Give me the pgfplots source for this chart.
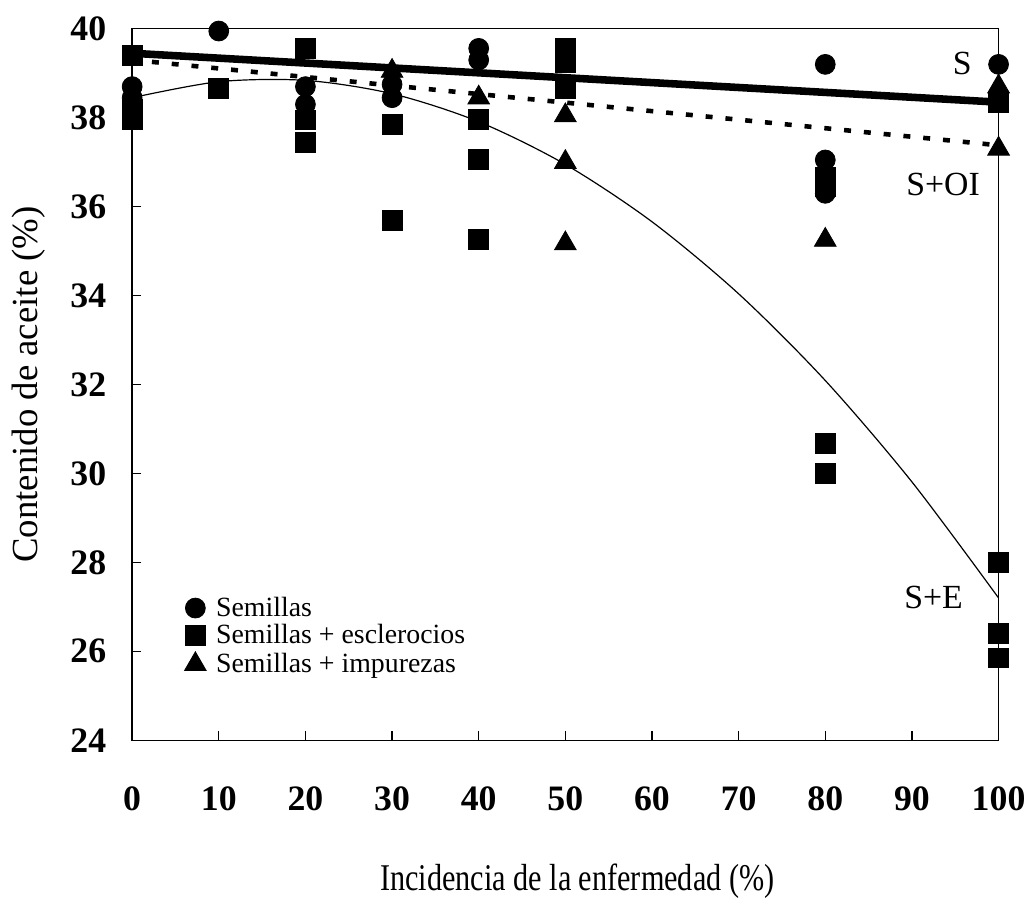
\documentclass[border=0pt]{standalone}
\usepackage{pgfplots}
\pgfplotsset{compat=1.18}
\usepackage{fontspec}
\setmainfont{Liberation Serif}
\newfontfamily\narrowserif[FakeStretch=0.8]{Liberation Serif}

\begin{document}
\begin{tikzpicture}
\begin{axis}[
    scale only axis,
    width=436pt,
    height=358pt,
    xmin=0, xmax=100,
    ymin=24, ymax=40,
    xtick={0,10,...,100},
    ytick={24,26,...,40},
    xtick pos=bottom,
    ytick pos=left,
    tick align=inside,
    major tick length=4.5pt,
    axis line style={line width=0.7pt},
    tick style={line width=0.7pt, black},
    /pgf/number format/assume math mode=true,
    ticklabel style={font=\fontsize{18}{18}\selectfont\bfseries},
    xticklabel style={yshift=-20pt},
    yticklabel style={xshift=-9.5pt},
    xlabel={Incidencia de la enfermedad (\%)},
    ylabel={Contenido de aceite (\%)},
    xlabel style={at={([xshift=6pt,yshift=-71pt]rel axis cs:0.5,0)}, anchor=center,
        font=\fontsize{19}{19}\narrowserif},
    ylabel style={at={([xshift=-52pt]rel axis cs:0,0.5)}, anchor=center,
        font=\fontsize{18.5}{18.5}\selectfont},
    clip=false,
    legend style={draw=none, fill=none, at={(rel axis cs:0.06,0.202)},
        anchor=north west, inner sep=0pt, row sep=2.6pt,
        font=\fontsize{14}{14}\selectfont,
        nodes={inner sep=0pt, outer sep=0pt}},
    legend cell align=left,
    legend image code/.code={\draw[mark repeat=2,mark phase=2,#1]
        plot coordinates {(0pt,0pt) (4.5pt,0pt) (9pt,0pt)};},
]
% Semillas
\addplot[only marks, mark=*, mark size=5pt, black] coordinates {
    (0,38.7) (0,38.45)
    (10,39.95)
    (20,38.7) (20,38.3)
    (30,38.75) (30,38.45)
    (40,39.56) (40,39.3)
    (80,39.2) (80,37.05) (80,36.3)
    (100,39.2)
};
\addlegendentry{\hspace{5pt}Semillas}
% Semillas + esclerocios
\addplot[only marks, mark=square*, mark size=5pt, black] coordinates {
    (0,39.4) (0,38.2) (0,37.95)
    (10,38.65)
    (20,39.55) (20,37.95) (20,37.45)
    (30,37.85) (30,35.7)
    (40,37.96) (40,37.07) (40,35.27)
    (50,39.56) (50,39.25) (50,38.65)
    (80,36.67) (80,36.45) (80,30.67) (80,30.0)
    (100,38.35) (100,28.0) (100,26.4) (100,25.85)
};
\addlegendentry{\hspace{5pt}Semillas + esclerocios}
% Semillas + impurezas
\addplot[only marks, mark=triangle*, mark size=6.3pt, black] coordinates {
    (30,39.05)
    (40,38.45)
    (50,38.05) (50,37.0) (50,35.17)
    (80,35.25)
    (100,38.7) (100,37.3)
};
\addlegendentry{\hspace{5pt}Semillas + impurezas}
% trend lines
\addplot[forget plot, black, line width=3.8pt] coordinates {(0,39.45) (100,38.35)};
\addplot[forget plot, black, line width=2.3pt, dash pattern=on 3.5pt off 6.5pt] coordinates {(0,39.3) (100,37.38)};
\addplot[forget plot, black, line width=0.6pt, smooth] coordinates {
    (0,38.45) (10,38.81) (20,38.84) (30,38.54) (40,37.91) (50,36.95)
    (60,35.66) (70,34.04) (80,32.09) (90,29.81) (100,27.2)
};
\node[font=\fontsize{17}{17}\selectfont] at (axis cs:95.8,39.22) {S};
\node[font=\fontsize{17}{17}\selectfont] at (axis cs:93.6,36.49) {S+OI};
\node[font=\fontsize{17}{17}\selectfont] at (axis cs:92.5,27.22) {S+E};
\end{axis}
\path ([shift={(-66.5pt,-81pt)}]current axis.south west) rectangle ([shift={(13.5pt,14.5pt)}]current axis.north east);
\end{tikzpicture}
\end{document}
